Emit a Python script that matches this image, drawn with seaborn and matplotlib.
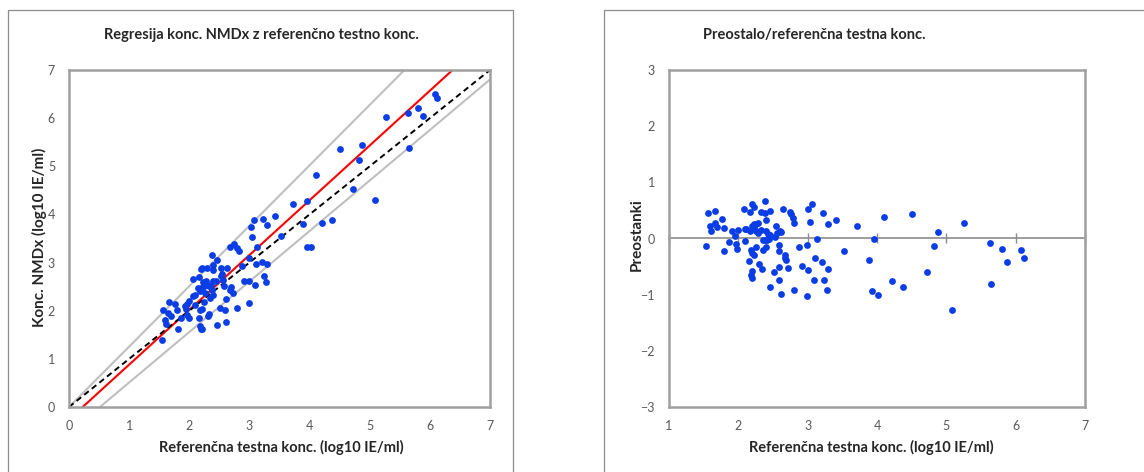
import seaborn as sns
import matplotlib.pyplot as plt
import matplotlib.patches as mpatches
import pandas as pd
import numpy as np

# levi graf: referencna konc. / konc. NMDx
ref_conc = [6.09, 6.12, 5.81, 5.88, 5.63, 5.27, 5.66, 4.51, 4.88, 4.82, 4.73, 5.09,
            4.10, 3.73, 3.96, 3.89, 4.21, 4.37, 3.95, 4.02, 3.53, 3.42, 3.22, 3.07,
            3.30, 3.02, 3.04, 3.12, 3.21, 3.11, 3.30, 3.24, 3.27, 3.09, 3.00, 2.91,
            3.00, 3.00, 2.80, 2.67, 2.75, 2.80, 2.82, 2.88, 2.72, 2.69, 2.67, 2.61,
            2.60, 2.61, 2.51, 2.46, 2.62, 2.52, 2.46, 2.38, 2.40, 2.40, 2.30, 2.21,
            2.19, 2.16, 2.07, 2.53, 2.54, 2.56, 2.58, 2.44, 2.40, 2.36, 2.27, 2.29,
            2.23, 2.18, 2.20, 2.22, 2.26, 2.33, 2.37, 2.40, 2.34, 2.25, 2.15, 2.10,
            2.07, 2.18, 2.33, 2.31, 2.18, 2.21, 2.16, 2.18, 2.19, 2.21, 2.10, 2.00,
            1.97, 1.93, 1.95, 1.97, 1.99, 1.87, 1.80, 1.81, 1.76, 1.67, 1.65, 1.70,
            1.59, 1.61, 1.56, 1.54]
nmdx_conc = [6.50, 6.41, 6.21, 6.05, 6.10, 6.02, 5.39, 5.35, 5.45, 5.14, 4.53, 4.30,
             4.82, 4.22, 4.28, 3.81, 3.82, 3.88, 3.32, 3.32, 3.55, 3.97, 3.91, 3.89,
             3.78, 3.73, 3.54, 3.32, 3.01, 2.96, 2.98, 2.72, 2.60, 2.54, 2.62, 2.62,
             3.09, 2.16, 2.05, 3.33, 3.39, 3.31, 3.25, 2.92, 2.36, 2.49, 2.44, 2.24,
             2.01, 1.76, 2.05, 1.70, 2.88, 2.88, 3.06, 3.16, 2.95, 2.84, 2.89, 2.88,
             2.87, 2.70, 2.66, 2.73, 2.77, 2.63, 2.51, 2.62, 2.61, 2.54, 2.62, 2.53,
             2.59, 2.44, 2.47, 2.49, 2.37, 2.51, 2.44, 2.33, 2.26, 2.19, 2.47, 2.33,
             2.31, 2.41, 1.93, 1.90, 2.02, 2.04, 1.84, 1.69, 1.61, 1.61, 2.11, 2.20,
             2.13, 2.09, 2.04, 1.92, 1.85, 1.85, 2.02, 1.61, 2.13, 2.18, 1.95, 1.90,
             1.80, 1.73, 2.01, 1.39]

# desni graf: referencna konc. / preostanki
res_ref = [1.54, 1.56, 1.59, 1.61, 1.67, 1.66, 1.69, 1.76, 1.80, 1.80, 1.86, 1.91,
           1.95, 1.96, 1.98, 1.99, 2.08, 2.09, 2.11, 2.09, 2.16, 2.17, 2.20, 2.23,
           2.17, 2.19, 2.23, 2.25, 2.22, 2.25, 2.28, 2.18, 2.20, 2.23, 2.18, 2.20,
           2.20, 2.25, 2.30, 2.34, 2.29, 2.32, 2.32, 2.38, 2.38, 2.45, 2.40, 2.36,
           2.40, 2.35, 2.38, 2.41, 2.44, 2.40, 2.43, 2.46, 2.46, 2.52, 2.54, 2.53,
           2.56, 2.60, 2.62, 2.58, 2.58, 2.59, 2.59, 2.61, 2.65, 2.75, 2.76, 2.79,
           2.81, 2.67, 2.69, 2.68, 2.71, 2.81, 2.88, 2.92, 2.99, 3.00, 3.00, 2.99,
           3.04, 3.06, 3.10, 3.09, 3.13, 3.22, 3.21, 3.23, 3.30, 3.29, 3.28, 3.41,
           3.52, 3.71, 3.89, 3.93, 3.96, 4.02, 4.10, 4.21, 4.37, 4.51, 4.72, 4.82,
           4.88, 5.08, 5.26, 5.63, 5.65, 5.81, 5.88, 6.08, 6.12]
residuals = [-0.14, 0.45, 0.22, 0.13, 0.49, 0.27, 0.21, 0.35, 0.18, -0.23, -0.06, 0.14,
             0.05, -0.10, -0.18, 0.15, 0.53, 0.17, 0.17, -0.04, -0.40, 0.47, 0.61, 0.56,
             0.14, 0.22, 0.18, 0.14, 0.26, 0.26, 0.28, -0.20, -0.26, -0.30, -0.65, -0.71,
             -0.58, -0.16, -0.46, -0.55, 0.09, 0.15, 0.47, 0.66, 0.46, 0.49, 0.33, -0.20,
             -0.16, -0.03, -0.02, -0.02, 0.00, 0.14, 0.08, 0.06, -0.86, -0.60, 0.23, 0.02,
             0.09, 0.14, 0.12, -0.12, -0.22, -0.50, -0.73, -0.98, 0.53, 0.48, 0.43, 0.36,
             0.28, -0.34, -0.39, -0.30, -0.52, -0.91, -0.15, -0.49, -0.11, 0.53, -0.56, -1.03,
             0.30, 0.61, -0.34, -0.73, 0.00, 0.45, -0.42, -0.73, 0.25, -0.55, -0.91, 0.33,
             -0.23, 0.23, -0.39, -0.93, -0.01, -1.01, 0.38, -0.75, -0.86, 0.43, -0.60, -0.13,
             0.12, -1.27, 0.27, -0.08, -0.81, -0.18, -0.42, -0.21, -0.34]

# premice (naklon, odsek)
reg_line = (1.138, -0.258)
upper_line = (1.255, 0.0)
lower_line = (1.049, -0.54)
identity_line = (1.0, 0.0)

ticks_left = [0, 1, 2, 3, 4, 5, 6, 7]
ticks_res_x = [1, 2, 3, 4, 5, 6, 7]
ticks_res_y = [-3, -2, -1, 0, 1, 2, 3]

sns.set_theme(style='white')
plt.rcParams['font.family'] = ['Lato', 'DejaVu Sans']

W, H = 1144, 472
fig = plt.figure(figsize=(W / 100, H / 100), dpi=100)

frame_col = '#a0a0a0'
zero_col = '#8c8c8c'
tick_col = '#595959'
dot_col = '#0a3de6'

# okvirja grafov
fig.patches.append(mpatches.Rectangle((8 / W, -0.1), (513 - 8) / W, 1.1 - 10 / H,
                                      transform=fig.transFigure, fill=False,
                                      edgecolor='#8c8c8c', lw=0.9))
fig.patches.append(mpatches.Rectangle((604 / W, -0.1), 0.6, 1.1 - 10 / H,
                                      transform=fig.transFigure, fill=False,
                                      edgecolor='#8c8c8c', lw=0.9))

ax1 = fig.add_axes([69 / W, 65 / H, 421 / W, 337 / H])
ax2 = fig.add_axes([669 / W, 65 / H, 416 / W, 337 / H])

df1 = pd.DataFrame({'x': ref_conc, 'y': nmdx_conc})
df2 = pd.DataFrame({'x': res_ref, 'y': residuals})

# levi graf
for slope, icpt in [upper_line, lower_line]:
    ax1.axline((0, icpt), slope=slope, color='#bfbfbf', lw=1.5, zorder=1)
ax1.axline((0, reg_line[1]), slope=reg_line[0], color='#ff0000', lw=1.5, zorder=2)
ax1.axline((0, identity_line[1]), slope=identity_line[0], color='black', lw=1.4,
           ls=(0, (3, 2)), zorder=2)
sns.scatterplot(data=df1, x='x', y='y', ax=ax1, color=dot_col, s=24,
                linewidth=0, zorder=3)
ax1.set_xlim(0, 7)
ax1.set_ylim(0, 7)
ax1.set_xticks(ticks_left)
ax1.set_yticks(ticks_left)

# desni graf
sns.scatterplot(data=df2, x='x', y='y', ax=ax2, color=dot_col, s=24,
                linewidth=0, zorder=3)
ax2.set_xlim(1, 7)
ax2.set_ylim(-3, 3)
ax2.set_xticks(ticks_res_x)
ax2.set_yticks(ticks_res_y)
secax = ax2.secondary_xaxis(0.5)
secax.set_xticks(ticks_res_x)
secax.set_xticklabels([])
secax.tick_params(direction='inout', length=7, width=1, color=zero_col,
                  labelbottom=False, labeltop=False)
for sp in secax.spines.values():
    sp.set_color(zero_col)
    sp.set_linewidth(1.2)

for ax in (ax1, ax2):
    ax.set_xlabel('')
    ax.set_ylabel('')
    for sp in ax.spines.values():
        sp.set_color(frame_col)
        sp.set_linewidth(1.8)
    ax.tick_params(axis='both', labelsize=9, labelcolor=tick_col, color=frame_col,
                   length=4, width=1, direction='out', pad=6)
    ax.tick_params(axis='x', length=0, pad=9)
    ax.grid(False)

# napisi
fig.text(261 / W, 1 - 35 / H, 'Regresija konc. NMDx z referenčno testno konc.',
         ha='center', va='center', fontsize=10.5, fontweight='bold')
fig.text(814 / W, 1 - 35 / H, 'Preostalo/referenčna testna konc.',
         ha='center', va='center', fontsize=10.5, fontweight='bold')
fig.text(281 / W, 1 - 447 / H, 'Referenčna testna konc. (log10 IE/ml)',
         ha='center', va='center', fontsize=10.5, fontweight='bold')
fig.text(871 / W, 1 - 447 / H, 'Referenčna testna konc. (log10 IE/ml)',
         ha='center', va='center', fontsize=10.5, fontweight='bold')
fig.text(39 / W, 1 - 237 / H, 'Konc. NMDx (log10 IE/ml)', rotation=90,
         ha='center', va='center', fontsize=11, fontweight='bold')
fig.text(637 / W, 1 - 235 / H, 'Preostanki', rotation=90,
         ha='center', va='center', fontsize=11, fontweight='bold')

fig.savefig('out.png', dpi=100, facecolor='white')
